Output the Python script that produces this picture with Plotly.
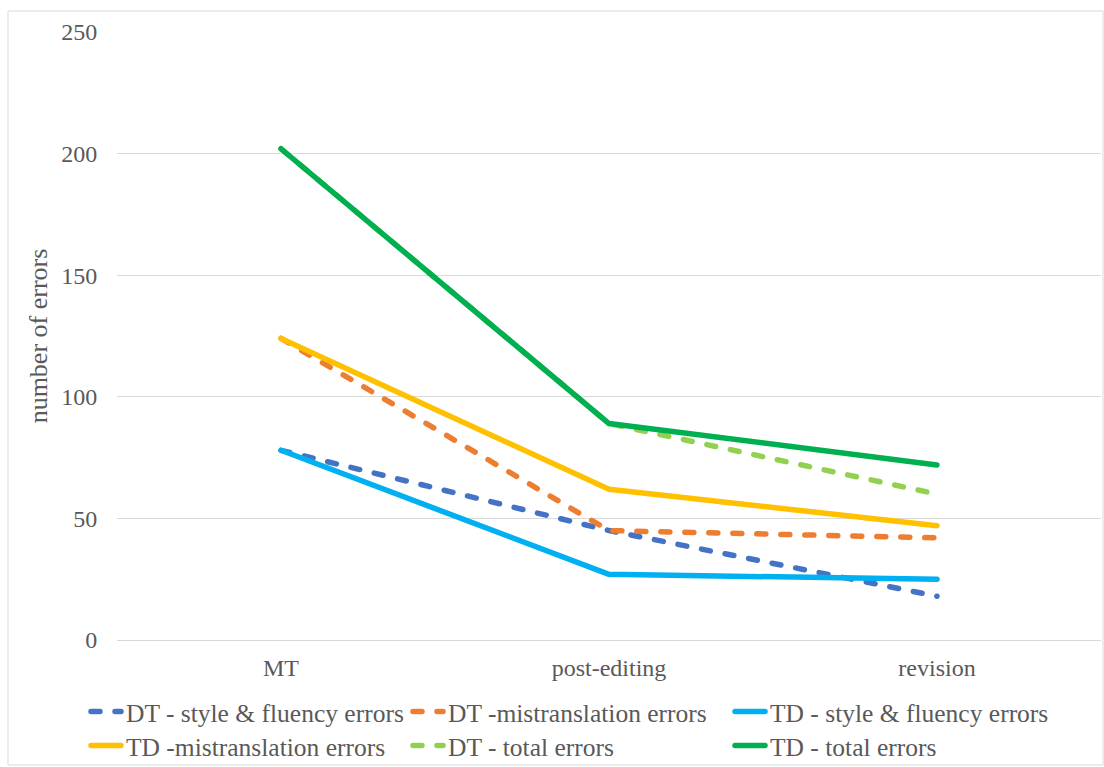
import plotly.graph_objects as go

stages = ["MT", "post-editing", "revision"]

dt_style = [78, 45, 18]
dt_mistrans = [124, 45, 42]
td_style = [78, 27, 25]
td_mistrans = [124, 62, 47]
dt_total = [202, 89, 60]
td_total = [202, 89, 72]

series = [
    ("DT - style & fluency errors", dt_style, "#4472C4", "dashed", "legend"),
    ("DT -mistranslation errors", dt_mistrans, "#ED7D31", "dashed", "legend"),
    ("TD - style & fluency errors", td_style, "#00B0F0", "solid", "legend"),
    ("TD -mistranslation errors", td_mistrans, "#FFC000", "solid", "legend2"),
    ("DT - total errors", dt_total, "#92D050", "dashed", "legend2"),
    ("TD - total errors", td_total, "#00B050", "solid", "legend2"),
]

W, H = 1104, 767
L, R, T, B = 117, 3, 32, 127

fig = go.Figure()
for name, vals, color, style, leg in series:
    fig.add_trace(go.Scatter(
        x=stages, y=vals, name=name, mode="lines",
        line=dict(color=color, width=5.5,
                  dash="9px,15px" if style == "dashed" else "solid"),
        legend=leg,
    ))

font_family = "Liberation Serif"
grey = "#595959"

leg_common = dict(
    orientation="h", xref="container", yref="container",
    xanchor="left", yanchor="middle",
    font=dict(family=font_family, size=25.5, color=grey),
    entrywidth=277, entrywidthmode="pixels",
    bgcolor="rgba(0,0,0,0)", traceorder="normal",
)

pw = W - L - R
ph = H - T - B

fig.update_layout(
    width=W, height=H,
    margin=dict(l=L, r=R, t=T, b=B),
    plot_bgcolor="white", paper_bgcolor="white",
    font=dict(family=font_family, color=grey),
    showlegend=True,
    legend=dict(**leg_common, x=86 / W, y=1 - 712 / H),
    legend2=dict(**leg_common, x=86 / W, y=1 - 746 / H),
    xaxis=dict(
        type="category", range=[-0.5, 2.5],
        showgrid=False, showline=False, zeroline=False,
        ticks="outside", ticklen=6, tickcolor="rgba(0,0,0,0)",
        tickfont=dict(size=24, color=grey, family=font_family),
    ),
    yaxis=dict(
        range=[0, 250], dtick=50,
        showgrid=True, gridcolor="#D9D9D9", gridwidth=1,
        zeroline=True, zerolinecolor="#D9D9D9", zerolinewidth=1,
        showline=False,
        ticks="outside", ticklen=14, tickcolor="rgba(0,0,0,0)",
        tickfont=dict(size=24, color=grey, family=font_family),
        title=dict(text="number of errors", standoff=6,
                   font=dict(size=26, color=grey, family=font_family)),
    ),
    shapes=[dict(
        type="rect", xref="paper", yref="paper",
        x0=(8 - L) / pw, x1=(1103 - L) / pw,
        y0=(H - B - 765) / ph, y1=(H - B - 11) / ph,
        line=dict(color="#D9D9D9", width=1), fillcolor="rgba(0,0,0,0)",
        layer="below",
    )],
)

post = """
document.body.style.margin='0';
document.body.style.overflow='hidden';
var st = document.createElement('style');
st.textContent = '.scatterlayer .js-line, .legendlines path { stroke-linecap: round !important; stroke-linejoin: round !important; }';
document.head.appendChild(st);
"""

fig.write_html("out.html",
               config={"displayModeBar": False},
               post_script=post)
